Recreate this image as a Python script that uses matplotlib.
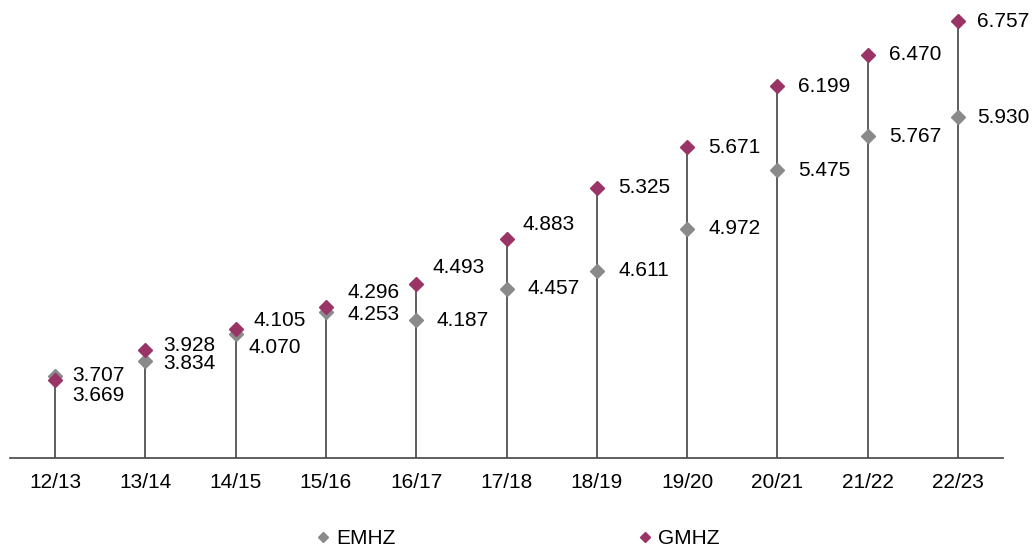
import matplotlib.pyplot as plt
import numpy as np

plt.rcParams['font.family'] = ['Liberation Sans', 'DejaVu Sans']

# data
years = ["12/13", "13/14", "14/15", "15/16", "16/17", "17/18",
         "18/19", "19/20", "20/21", "21/22", "22/23"]
emhz = [3.707, 3.834, 4.070, 4.253, 4.187, 4.457, 4.611, 4.972, 5.475, 5.767, 5.930]
gmhz = [3.669, 3.928, 4.105, 4.296, 4.493, 4.883, 5.325, 5.671, 6.199, 6.470, 6.757]

# label nudges in pixels (dx, dy), by hand to avoid overlaps
emhz_off = [(17, 0), (18, -3), (13, -14), (22, -2), (20, -1), (21, 0),
            (22, 0), (21, 0), (21, 0), (21, 0), (19, 0)]
gmhz_off = [(17, -15), (18, 5), (18, 9), (22, 15), (16, 17), (16, 15),
            (21, 0), (21, 0), (21, 0), (21, 0), (19, 0)]

grey = "#8a8a8a"
berry = "#9b3466"

fig = plt.figure(figsize=(10.32, 5.53), dpi=100)
ax = fig.add_axes([0.0097, 0.172, 0.9623, 0.828])

x = np.arange(len(years))
tops = np.maximum(emhz, gmhz)
ax.vlines(x, 3.0, tops, color="#333333", lw=1.1, zorder=1)

ax.plot(x, emhz, ls="none", marker="D", ms=7, color=grey, label="EMHZ", zorder=3)
ax.plot(x, gmhz, ls="none", marker="D", ms=7, color=berry, label="GMHZ", zorder=3)

for i in range(len(years)):
    ax.annotate(f"{emhz[i]:.3f}", (x[i], emhz[i]), xytext=emhz_off[i],
                textcoords="offset pixels", ha="left", va="center", fontsize=15)
    ax.annotate(f"{gmhz[i]:.3f}", (x[i], gmhz[i]), xytext=gmhz_off[i],
                textcoords="offset pixels", ha="left", va="center", fontsize=15)

ax.set_xlim(-0.5, 10.5)
ax.set_ylim(3.0, 6.94)
ax.set_xticks(x)
ax.set_xticklabels(years, fontsize=15)
ax.tick_params(axis="x", length=0, pad=11)
ax.set_yticks([])
for s in ["left", "right", "top"]:
    ax.spines[s].set_visible(False)
ax.spines["bottom"].set_color("#444444")
ax.spines["bottom"].set_linewidth(1.2)

fig.legend(loc="lower center", bbox_to_anchor=(0.5, -0.025), ncol=2, frameon=False,
           fontsize=15, columnspacing=11.5, handletextpad=0.1, handlelength=1.0,
           markerscale=0.8)

fig.savefig("out.png", dpi=100)
